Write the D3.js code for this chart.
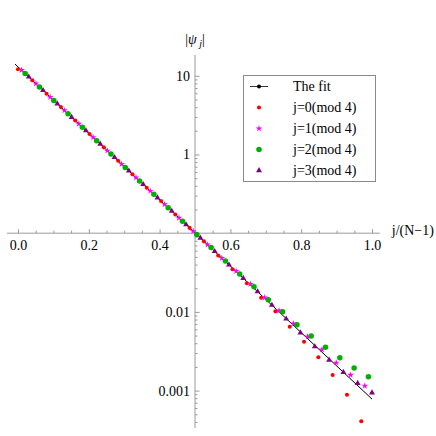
<!DOCTYPE html>
<html>
<head>
<meta charset="utf-8">
<script src="https://cdn.jsdelivr.net/npm/d3@7"></script>
<style>
  html, body { margin: 0; padding: 0; background: #fff; }
  svg { display: block; }
</style>
</head>
<body>
<script>
// ---------- data ----------
const N = 100; // points j = 0..99, x = j/(N-1)
const jMod0 = [0,4,8,12,16,20,24,28,32,36,40,44,48,52,56,60,64,68,72,76,80,84,88,92,96];
const jMod1 = [1,5,9,13,17,21,25,29,33,37,41,45,49,53,57,61,65,69,73,77,81,85,89,93,97];
const jMod2 = [2,6,10,14,18,22,26,30,34,38,42,46,50,54,58,62,66,70,74,78,82,86,90,94,98];
const jMod3 = [3,7,11,15,19,23,27,31,35,39,43,47,51,55,59,63,67,71,75,79,83,87,91,95,99];

const psiMod0 = [12.1,8.78,5.93,4.00,2.70,1.825,1.232,0.832,0.562,0.379,0.256,0.173,0.1168,0.0788,0.0520,0.0348,0.0231,0.01514,0.01016,0.00649,0.00418,0.00265,0.00158,0.000887,0.000407];
const psiMod1 = [11.79,7.96,5.37,3.63,2.45,1.654,1.117,0.754,0.509,0.344,0.2322,0.1568,0.1059,0.0715,0.0483,0.0330,0.02254,0.01521,0.01039,0.00710,0.00485,0.00331,0.00226,0.00158,0.00115];
const psiMod2 = [10.68,7.21,4.87,3.29,2.22,1.500,1.013,0.684,0.4617,0.3118,0.2105,0.1421,0.0960,0.0656,0.0443,0.0304,0.0209,0.01430,0.01007,0.00687,0.00494,0.00355,0.00262,0.00194,0.00150];
const psiMod3 = [9.68,6.54,4.42,2.98,2.01,1.360,0.918,0.620,0.418,0.2826,0.1909,0.1289,0.0870,0.0587,0.0397,0.0268,0.01809,0.01221,0.00815,0.00544,0.00363,0.00245,0.00171,0.00124,0.000940];

const fitX = [-0.0085, 1.0];
const fitY = [14.1, 0.00078];

const xTicks = [0, 0.2, 0.4, 0.6, 0.8, 1.0];
const xTickLabels = ["0.0", "0.2", "0.4", "0.6", "0.8", "1.0"];
const xMinorTicks = [0.05,0.1,0.15,0.25,0.3,0.35,0.45,0.5,0.55,0.65,0.7,0.75,0.85,0.9,0.95];
const yTicks = [10, 1, 0.1, 0.01, 0.001];
const yTickLabels = ["10", "1", "", "0.01", "0.001"];
const xAxisExtent = [-0.031, 1.022];
const yAxisExtent = [18.4, 0.000335];
const xAxisAt = 0.1;   // x-axis crosses y at 0.1
const yAxisAt = 0.5;   // y-axis crosses x at 0.5

const seriesNames = ["j=0(mod 4)", "j=1(mod 4)", "j=2(mod 4)", "j=3(mod 4)"];
const seriesColors = ["#ff0000", "#ff00ff", "#00b000", "#800080"];

// ---------- chart ----------
const W = 436, H = 436;
const FONT = '"Liberation Serif", "Times New Roman", Tinos, "DejaVu Serif", serif';
const svg = d3.select("body").append("svg").attr("width", W).attr("height", H)
  .style("font-family", FONT);

const x = d3.scaleLinear().domain([0, 1]).range([18, 372]);
const y = d3.scaleLog().domain([1, 0.001]).range([154.5, 390.6]);

const axisColor = "#9a9a9a";
const fontSize = 14;

// x axis
const xA = svg.append("g").attr("transform", `translate(0,${y(xAxisAt)})`);
xA.append("line")
  .attr("x1", x(xAxisExtent[0])).attr("x2", x(xAxisExtent[1]))
  .attr("stroke", axisColor).attr("stroke-width", 1);
const xMajor = d3.axisBottom(x).tickValues(xTicks)
  .tickFormat((d, i) => xTickLabels[i]).tickSizeInner(-4).tickSizeOuter(0).tickPadding(7);
const xMinor = d3.axisBottom(x).tickValues(xMinorTicks)
  .tickFormat("").tickSizeInner(-2.5).tickSizeOuter(0);
const gxm = xA.append("g").call(xMinor);
const gx = xA.append("g").call(xMajor);
[gx, gxm].forEach(g => {
  g.attr("font-family", null).attr("font-size", null);
  g.select(".domain").remove();
  g.selectAll(".tick line").attr("stroke", axisColor);
});
gx.selectAll(".tick text").attr("fill", "#000").style("font-size", fontSize + "px")
  .style("font-family", FONT);

// y axis
const yA = svg.append("g").attr("transform", `translate(${x(yAxisAt)},0)`);
yA.append("line")
  .attr("y1", y(yAxisExtent[0])).attr("y2", y(yAxisExtent[1]))
  .attr("stroke", axisColor).attr("stroke-width", 1);
const yMinorTicks = y.copy().domain([yAxisExtent[0], yAxisExtent[1]]).ticks()
  .filter(v => Math.abs(Math.log10(v) - Math.round(Math.log10(v))) > 1e-6)
  .filter(v => v <= yAxisExtent[0] && v >= yAxisExtent[1]);
const yMajor = d3.axisLeft(y).tickValues(yTicks)
  .tickFormat((d, i) => yTickLabels[i]).tickSizeInner(-4.5).tickSizeOuter(0).tickPadding(5);
const yMinor = d3.axisLeft(y).tickValues(yMinorTicks)
  .tickFormat("").tickSizeInner(-2.5).tickSizeOuter(0);
const gym = yA.append("g").call(yMinor);
const gy = yA.append("g").call(yMajor);
[gy, gym].forEach(g => {
  g.attr("font-family", null).attr("font-size", null);
  g.select(".domain").remove();
  g.selectAll(".tick line").attr("stroke", axisColor);
});
gy.selectAll(".tick text").attr("fill", "#000").style("font-size", fontSize + "px")
  .style("font-family", FONT);

// axis labels
const yl = svg.append("text").attr("x", x(yAxisAt)).attr("y", 44)
  .attr("text-anchor", "middle").style("font-size", fontSize + "px").style("font-family", FONT);
yl.append("tspan").text("|");
yl.append("tspan").attr("font-style", "italic").text("ψ");
yl.append("tspan").attr("font-style", "italic").style("font-size", "10px").attr("dy", 3).text(" j");
yl.append("tspan").attr("dy", -3).text("|");

svg.append("text").attr("x", x(xAxisExtent[1]) + 12).attr("y", y(xAxisAt) + 2)
  .style("font-size", fontSize + "px").style("font-family", FONT).text("j/(N−1)");

// fit line
const line = d3.line().x(d => x(d[0])).y(d => y(d[1]));
svg.append("path").datum(d3.zip(fitX, fitY)).attr("d", line)
  .attr("fill", "none").attr("stroke", "#000").attr("stroke-width", 1);

// points
const symbols = [
  d3.symbol().type(d3.symbolCircle).size(13),
  d3.symbol().type(d3.symbolStar).size(14),
  d3.symbol().type(d3.symbolCircle).size(24),
  d3.symbol().type(d3.symbolTriangle).size(15)
];
const allJ = [jMod0, jMod1, jMod2, jMod3];
const allPsi = [psiMod0, psiMod1, psiMod2, psiMod3];
allJ.forEach((js, s) => {
  const pts = js.map((j, i) => [j / (N - 1), allPsi[s][i]]);
  svg.append("g").selectAll("path").data(pts).join("path")
    .attr("d", symbols[s]())
    .attr("transform", d => `translate(${x(d[0])},${y(d[1])})`)
    .attr("fill", seriesColors[s]);
});

// legend
const lg = svg.append("g");
lg.append("rect").attr("x", 243.5).attr("y", 75.5).attr("width", 132).attr("height", 106)
  .attr("fill", "#fff").attr("stroke", "#8a8a8a").attr("stroke-width", 1);
const rowY = [86.5, 107.5, 128.5, 149.5, 170.5];
const mx = 259;
lg.append("line").attr("x1", 250).attr("x2", 268).attr("y1", rowY[0]).attr("y2", rowY[0])
  .attr("stroke", "#000").attr("stroke-width", 0.8);
lg.append("circle").attr("cx", mx).attr("cy", rowY[0]).attr("r", 2).attr("fill", "#000");
lg.append("text").attr("x", 293).attr("y", rowY[0] + 4.5)
  .style("font-size", fontSize + "px").style("font-family", FONT).text("The fit");
seriesNames.forEach((nm, s) => {
  lg.append("path").attr("d", symbols[s]())
    .attr("transform", `translate(${mx},${rowY[s + 1]})`).attr("fill", seriesColors[s]);
  lg.append("text").attr("x", 293).attr("y", rowY[s + 1] + 4.5)
    .style("font-size", fontSize + "px").style("font-family", FONT).text(nm);
});
</script>
</body>
</html>
